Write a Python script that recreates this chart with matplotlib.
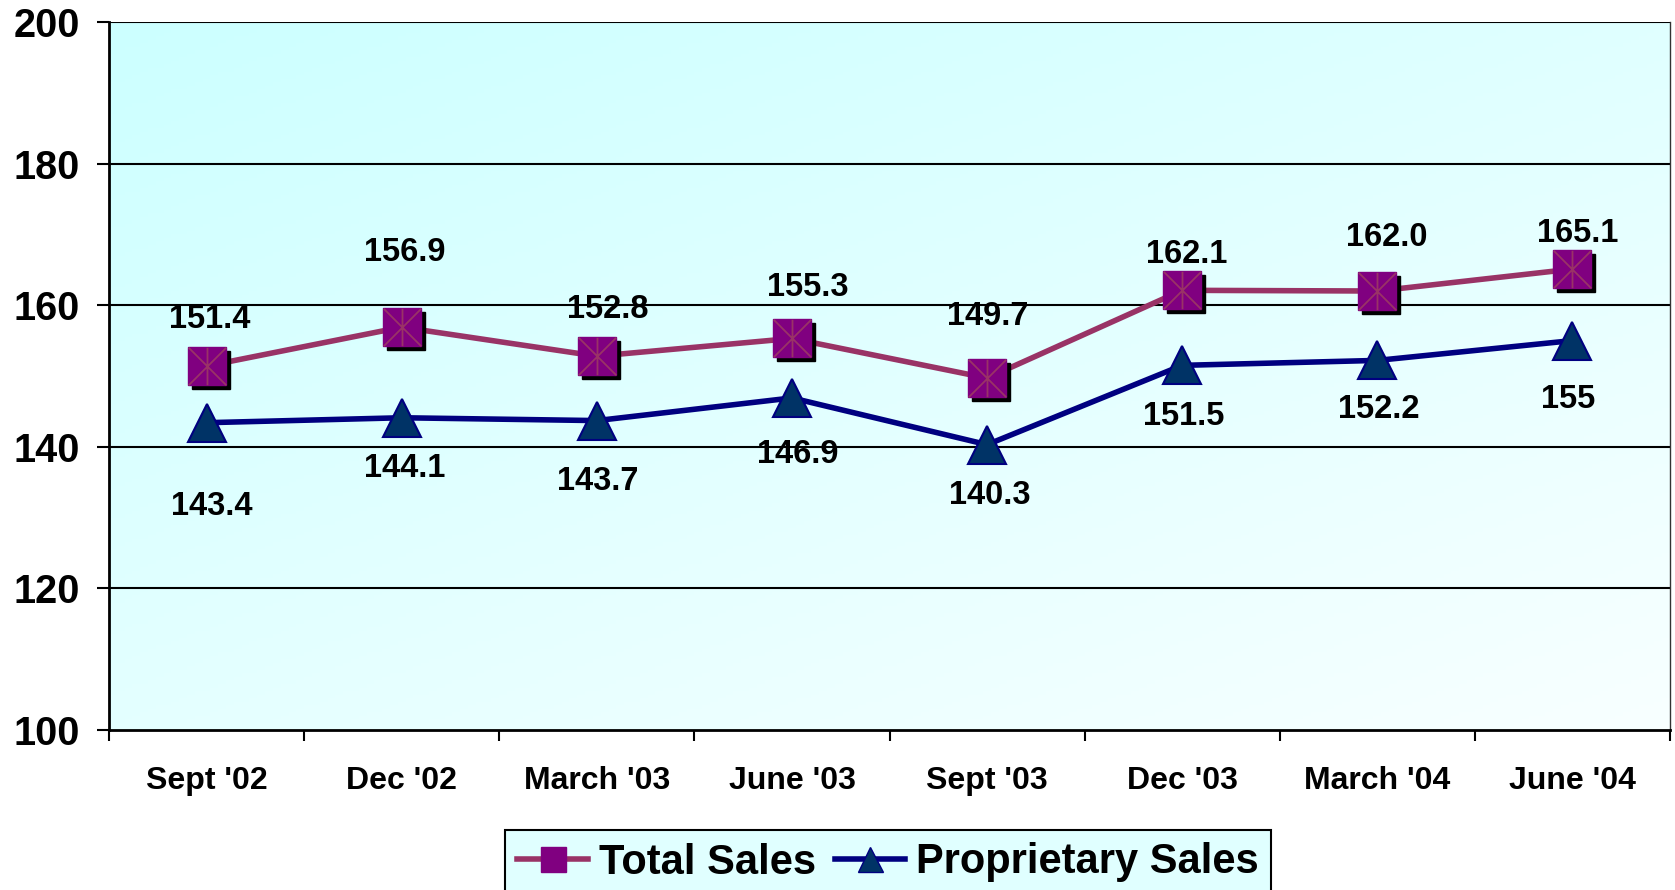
import numpy as np
import matplotlib
matplotlib.use("Agg")
import matplotlib.pyplot as plt
import matplotlib.transforms as mtransforms
from matplotlib.path import Path
from matplotlib.lines import Line2D
from matplotlib.colors import LinearSegmentedColormap

plt.rcParams["font.family"] = ["Liberation Sans", "DejaVu Sans"]
plt.rcParams["font.weight"] = "bold"

# ── data ──────────────────────────────────────────────
quarters = ["Sept '02", "Dec '02", "March '03", "June '03",
            "Sept '03", "Dec '03", "March '04", "June '04"]
total_sales = [151.4, 156.9, 152.8, 155.3, 149.7, 162.1, 162.0, 165.1]
total_labels = ["151.4", "156.9", "152.8", "155.3", "149.7", "162.1", "162.0", "165.1"]
prop_sales = [143.4, 144.1, 143.7, 146.9, 140.3, 151.5, 152.2, 155.0]
prop_labels = ["143.4", "144.1", "143.7", "146.9", "140.3", "151.5", "152.2", "155"]

# label offsets (pixels) as placed in the original
total_off = [(3, 47), (3, 75), (11, 47), (16, 51), (1, 62), (5, 36), (9, 54), (5, 36)]
prop_off = [(5, -84), (3, -51), (1, -61), (6, -57), (3, -51), (2, -51), (1, -49), (-4, -59)]

C_TOTAL = "#993366"
C_TOTAL_FILL = "#800080"
C_PROP = "#000080"
C_PROP_FILL = "#003366"

fig = plt.figure(figsize=(16.75, 8.9), dpi=100)
ax = fig.add_axes([0.0651, 0.1798, 0.9319, 0.7955])

# gradient plot area (cyan top-left -> near white bottom-right)
gx, gy = np.meshgrid(np.linspace(0, 1, 200), np.linspace(0, 1, 200))
grad = gx * 0.45 + gy * 0.55
cmap = LinearSegmentedColormap.from_list("bg", ["#ccffff", "#f8ffff"])
ax.imshow(grad, cmap=cmap, extent=[0, 1, 0, 1], transform=ax.transAxes,
          aspect="auto", zorder=0, origin="upper")

x = np.arange(len(quarters))
ax.set_xlim(-0.5, len(quarters) - 0.5)
ax.set_ylim(100, 200)

for yv in [120, 140, 160, 180, 200]:
    ax.axhline(yv, color="black", lw=1.5, zorder=1)

# proprietary line
ax.plot(x, prop_sales, color=C_PROP, lw=4, zorder=3)
ax.plot(x, prop_sales, ls="none", marker="^", ms=27, mfc=C_PROP_FILL,
        mec=C_PROP, mew=1.5, zorder=4)

# total line with shadowed square markers
ax.plot(x, total_sales, color=C_TOTAL, lw=4, zorder=3)
shadow = mtransforms.offset_copy(ax.transData, fig=fig, x=4, y=-4, units="dots")
ax.plot(x, total_sales, ls="none", marker="s", ms=27, mfc="black", mec="black",
        transform=shadow, zorder=4)
ax.plot(x, total_sales, ls="none", marker="s", ms=27, mfc=C_TOTAL_FILL,
        mec=C_TOTAL_FILL, mew=1, zorder=5)
star = Path([(-0.5, -0.5), (0.5, 0.5), (-0.5, 0.5), (0.5, -0.5), (0, -0.5), (0, 0.5)],
            [Path.MOVETO, Path.LINETO, Path.MOVETO, Path.LINETO, Path.MOVETO, Path.LINETO])
ax.plot(x, total_sales, ls="none", marker=star, ms=27, mec=C_TOTAL, mew=1.3, zorder=6)

for xi, v, s, off in zip(x, total_sales, total_labels, total_off):
    ax.annotate(s, (xi, v), xytext=off, textcoords="offset pixels",
                ha="center", va="center", fontsize=23.5, fontweight="bold", zorder=7)
for xi, v, s, off in zip(x, prop_sales, prop_labels, prop_off):
    ax.annotate(s, (xi, v), xytext=off, textcoords="offset pixels",
                ha="center", va="center", fontsize=23.5, fontweight="bold", zorder=7)

# axes styling
ax.set_yticks([100, 120, 140, 160, 180, 200])
ax.tick_params(axis="y", length=9, width=1.5, pad=12, labelsize=28.5)
ax.set_xticks(x)
ax.set_xticklabels(quarters)
ax.tick_params(axis="x", which="major", length=0, pad=26, labelsize=23)
ax.set_xticks(np.arange(-0.5, len(quarters)), minor=True)
ax.tick_params(axis="x", which="minor", length=8, width=1.5)
for lab in ax.get_xticklabels() + ax.get_yticklabels():
    lab.set_fontweight("bold")

ax.spines["left"].set_linewidth(2)
ax.spines["bottom"].set_linewidth(2)
ax.spines["top"].set_visible(False)
ax.spines["right"].set_linewidth(1)
ax.spines["right"].set_color("#333333")

# legend
handles = [
    Line2D([], [], color=C_TOTAL, lw=4, marker="s", ms=18, mfc=C_TOTAL_FILL,
           mec=C_TOTAL_FILL, label="Total Sales"),
    Line2D([], [], color=C_PROP, lw=4, marker="^", ms=18, mfc=C_PROP_FILL,
           mec=C_PROP, label="Proprietary Sales"),
]
leg = fig.legend(handles=handles, loc="upper center",
                 bbox_to_anchor=(888 / 1675, 1 - 830 / 890), ncol=2,
                 prop={"size": 30, "weight": "bold"}, frameon=True, fancybox=False,
                 facecolor="#e0ffff", edgecolor="black", framealpha=1,
                 handlelength=1.7, handletextpad=0.25, columnspacing=0.45,
                 borderpad=0.3, borderaxespad=0)
leg.get_frame().set_linewidth(1.5)

fig.savefig("out.png", dpi=100)
